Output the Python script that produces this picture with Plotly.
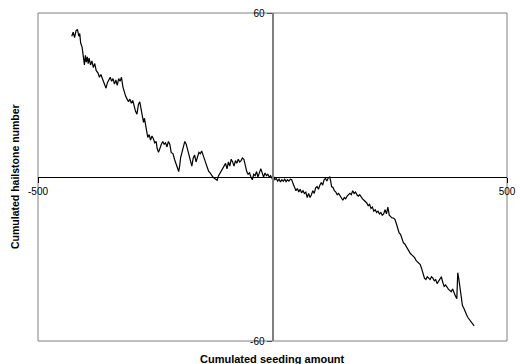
import plotly.graph_objects as go

# Cumulated seeding amount (x) and cumulated hailstone number (y)
seeding = [
    -428, -425, -422, -419, -416, -413, -411, -409, -406, -404, -403, -401, -399, -397, -395, -393,
    -391, -388, -385, -382, -379, -376, -372, -369, -366, -362, -358, -355, -352, -349, -346, -343,
    -340, -337, -334, -331, -328, -325, -322, -319, -316, -313, -310, -307, -304, -301, -298, -295,
    -292, -289, -286, -283, -280, -277, -275, -273, -270, -268, -266, -263, -260, -257, -254, -251,
    -248, -246, -243, -240, -237, -234, -231, -228, -225, -222, -219, -216, -212, -209, -206, -203,
    -200, -198, -196, -193, -190, -187, -184, -181, -178, -175, -172, -169, -166, -163, -160, -157,
    -154, -151, -148, -145, -142, -139, -136, -133, -130, -127, -124, -121, -118, -115, -112, -109,
    -106, -103, -100, -97, -94, -91, -88, -85, -82, -79, -76, -73, -70, -67, -64, -61,
    -58, -55, -52, -49, -46, -43, -40, -37, -34, -31, -28, -25, -22, -19, -16, -13,
    -10, -7, -4, -1, 2, 5, 8, 11, 14, 17, 20, 23, 26, 29, 32, 35,
    38, 41, 44, 47, 50, 53, 56, 59, 62, 65, 68, 71, 74, 77, 80, 83,
    86, 89, 92, 95, 98, 101, 104, 107, 110, 113, 116, 119, 122, 124, 126, 129,
    132, 135, 138, 141, 144, 147, 150, 153, 156, 159, 162, 165, 168, 171, 174, 177,
    180, 183, 186, 189, 192, 195, 198, 201, 204, 207, 210, 213, 216, 219, 222, 225,
    228, 231, 234, 237, 240, 243, 246, 249, 252, 255, 258, 261, 264, 267, 270, 273,
    276, 279, 282, 285, 288, 291, 294, 297, 300, 303, 306, 309, 312, 315, 318, 321,
    324, 327, 330, 333, 336, 339, 342, 345, 348, 351, 354, 357, 360, 363, 366, 369,
    372, 375, 378, 381, 384, 387, 390, 393, 395, 397, 399, 401, 403, 405, 408, 411,
    414, 417, 421, 425, 430,
]
hailstones = [
    51.5, 53.0, 51.0, 53.5, 54.0, 51.5, 52.5, 49.0, 47.5, 45.0, 43.0, 41.0, 44.5, 42.0, 44.0, 41.5,
    43.5, 41.0, 42.5, 40.0, 41.5, 39.0, 38.0, 36.5, 37.5, 35.5, 34.0, 32.5, 34.5, 35.5, 36.5, 35.0,
    36.0, 34.0, 35.5, 33.5, 36.0, 35.0, 36.5, 33.0, 31.0, 29.5, 28.5, 27.5, 28.5, 27.0, 28.0, 25.5,
    24.0, 23.0, 26.5, 27.5, 25.0, 22.5, 20.0, 21.5, 17.5, 16.5, 14.5, 15.5, 13.5, 15.0, 14.0, 12.5,
    13.0, 10.5, 9.0, 11.0, 12.0, 13.0, 12.0, 12.5, 11.0, 13.0, 12.0, 9.0, 8.5, 6.5, 5.0, 3.0,
    2.0, 4.0, 7.0, 9.0, 11.0, 13.0, 12.0, 10.0, 8.0, 6.5, 4.0, 7.0, 8.0, 5.5, 7.5, 9.0,
    8.5, 9.5, 8.0, 6.0, 5.0, 3.5, 2.0, 1.5, 0.5, 0.0, -0.5, -1.0, -1.2, 0.5, 1.5, 2.0,
    3.0, 4.5, 5.0, 3.0, 5.5, 4.0, 6.5, 5.5, 4.0, 6.0, 5.0, 6.5, 5.5, 6.0, 7.0, 6.5,
    4.0, 2.0, 1.0, 1.5, 0.0, -1.0, 1.0, 0.5, 2.0, 0.0, 1.5, 3.0, 1.5, 0.0, 1.5, 0.5,
    1.0, 0.0, 0.5, -0.5, 0.3, -1.0, -0.5, -1.5, -0.8, -1.8, -1.0, -1.6, -0.8, -1.7, -1.0, -1.5,
    -0.8, -1.0, -2.5, -4.0, -5.0, -4.2, -5.5, -4.5, -5.8, -5.0, -6.0, -5.5, -7.5, -6.0, -7.5, -6.5,
    -5.0, -6.0, -4.0, -3.5, -4.5, -3.0, -2.0, -3.0, -1.0, -0.5, -1.5, -0.3, 0.0, -1.5, -3.5, -3.8,
    -5.0, -5.5, -6.5, -6.0, -7.0, -8.0, -8.5, -7.5, -8.0, -7.0, -6.5, -6.0, -6.5, -5.0, -6.0, -5.5,
    -6.5, -7.0, -6.5, -7.5, -8.0, -8.5, -9.0, -9.5, -10.5, -10.0, -11.5, -11.0, -12.5, -12.0, -13.0, -12.5,
    -13.5, -13.0, -14.0, -13.5, -12.0, -13.5, -11.0, -14.0, -14.5, -15.0, -15.0, -15.5, -17.0, -19.0, -20.5, -21.0,
    -23.0, -24.0, -24.5, -25.5, -26.5, -27.5, -28.0, -28.5, -29.0, -29.5, -30.5, -31.0, -31.5, -32.0, -33.5, -35.0,
    -37.0, -37.5, -36.5, -37.0, -37.5, -36.5, -37.0, -38.0, -37.5, -39.0, -38.0, -37.0, -36.5, -38.5, -40.0, -39.5,
    -40.5, -41.0, -41.5, -42.0, -41.0, -42.5, -43.5, -44.5, -35.0, -37.0, -39.5, -41.5, -44.0, -47.0, -48.0, -49.5,
    -50.5, -51.5, -52.5, -53.5, -54.5,
]

x_ticks = [-500, 500]
x_tick_labels = ["-500", "500"]
y_ticks = [-60, 60]
y_tick_labels = ["-60", "60"]

x_title = "Cumulated seeding amount"
y_title = "Cumulated hailstone number"

font_family = "Liberation Sans, Arial, sans-serif"

fig = go.Figure()
fig.add_trace(go.Scatter(
    x=seeding, y=hailstones, mode="lines",
    line=dict(color="black", width=1.2),
    showlegend=False, hoverinfo="skip",
))

fig.update_layout(
    width=520, height=364,
    margin=dict(l=38, r=13, t=13, b=23),
    paper_bgcolor="white", plot_bgcolor="white",
    font=dict(family=font_family, size=10, color="black"),
    xaxis=dict(
        range=[-500, 500], anchor="free", position=0.5, automargin=False,
        showgrid=False, zeroline=False,
        showline=True, linecolor="black", linewidth=1,
        ticks="outside", ticklen=5, tickcolor="black", tickwidth=1,
        tickvals=x_ticks, ticktext=x_tick_labels,
        tickfont=dict(size=10, family=font_family, color="black"),
        fixedrange=True,
    ),
    yaxis=dict(
        range=[-60, 60], anchor="free", position=0.5, automargin=False,
        showgrid=False, zeroline=False,
        showline=True, linecolor="#808080", linewidth=2,
        ticks="outside", ticklen=5, tickcolor="#555555", tickwidth=1,
        tickvals=y_ticks, ticktext=y_tick_labels,
        tickfont=dict(size=10, family=font_family, color="black"),
        fixedrange=True,
    ),
    shapes=[dict(
        type="rect", xref="paper", yref="paper", x0=0, y0=0, x1=1, y1=1,
        line=dict(color="#808080", width=1), layer="below",
    )],
    annotations=[
        dict(text="<b>" + x_title + "</b>", xref="paper", yref="paper",
             x=0.5, y=0, yshift=-18, showarrow=False,
             xanchor="center", yanchor="middle",
             font=dict(size=11, family=font_family, color="black")),
        dict(text="<b>" + y_title + "</b>", xref="paper", yref="paper",
             x=0, y=0.5, xshift=-23, showarrow=False, textangle=-90,
             xanchor="center", yanchor="middle",
             font=dict(size=10.5, family=font_family, color="black")),
    ],
)

fig.write_html("out.html")
